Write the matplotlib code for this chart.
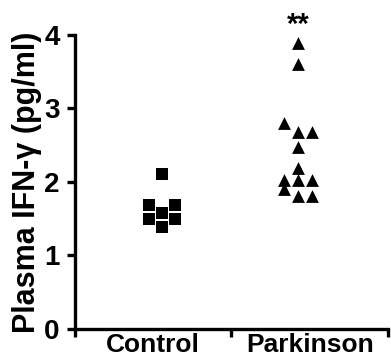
import matplotlib.pyplot as plt
import numpy as np

plt.rcParams['font.family'] = ['Liberation Sans', 'DejaVu Sans']
plt.rcParams['font.weight'] = 'bold'

groups = ['Control', 'Parkinson']
control_vals = [2.10, 1.69, 1.69, 1.58, 1.49, 1.49, 1.39]
control_x = [0.556, 0.470, 0.642, 0.556, 0.470, 0.642, 0.556]
park_vals = [3.89, 3.60, 2.80, 2.68, 2.68, 2.47, 2.19, 2.02, 2.02, 2.02, 1.90, 1.81, 1.81]
park_x = [1.425, 1.425, 1.335, 1.425, 1.514, 1.425, 1.425, 1.335, 1.425, 1.514, 1.335, 1.425, 1.514]

fig = plt.figure(figsize=(3.91, 3.64), dpi=100)
ax = fig.add_axes([0.192, 0.097, 0.8, 0.807])

ax.scatter(control_x, control_vals, marker='s', s=70, color='black', linewidths=0)
ax.scatter(park_x, park_vals, marker='^', s=85, color='black', linewidths=0)
ax.text(1.425, 4.13, '**', ha='center', va='center', fontsize=21, fontweight='bold')

ax.set_xlim(0, 2)
ax.set_ylim(0, 4)
ax.set_xticks([0, 1, 2])
ax.set_xticklabels([])
ax.set_xticks([0.5, 1.5], minor=True)
ax.set_xticklabels(groups, minor=True, fontsize=19, fontweight='bold')
ax.tick_params(axis='x', which='minor', length=0, pad=3)
ax.set_yticks([0, 1, 2, 3, 4])
ax.tick_params(axis='both', which='major', width=2.4, length=6, labelsize=20)
ax.tick_params(axis='y', pad=5)
ax.set_ylabel('Plasma IFN-γ (pg/ml)', fontsize=22, fontweight='bold', labelpad=2)

for s in ['top', 'right']:
    ax.spines[s].set_visible(False)
for s in ['left', 'bottom']:
    ax.spines[s].set_linewidth(2.4)

fig.savefig('out.png', dpi=100)
